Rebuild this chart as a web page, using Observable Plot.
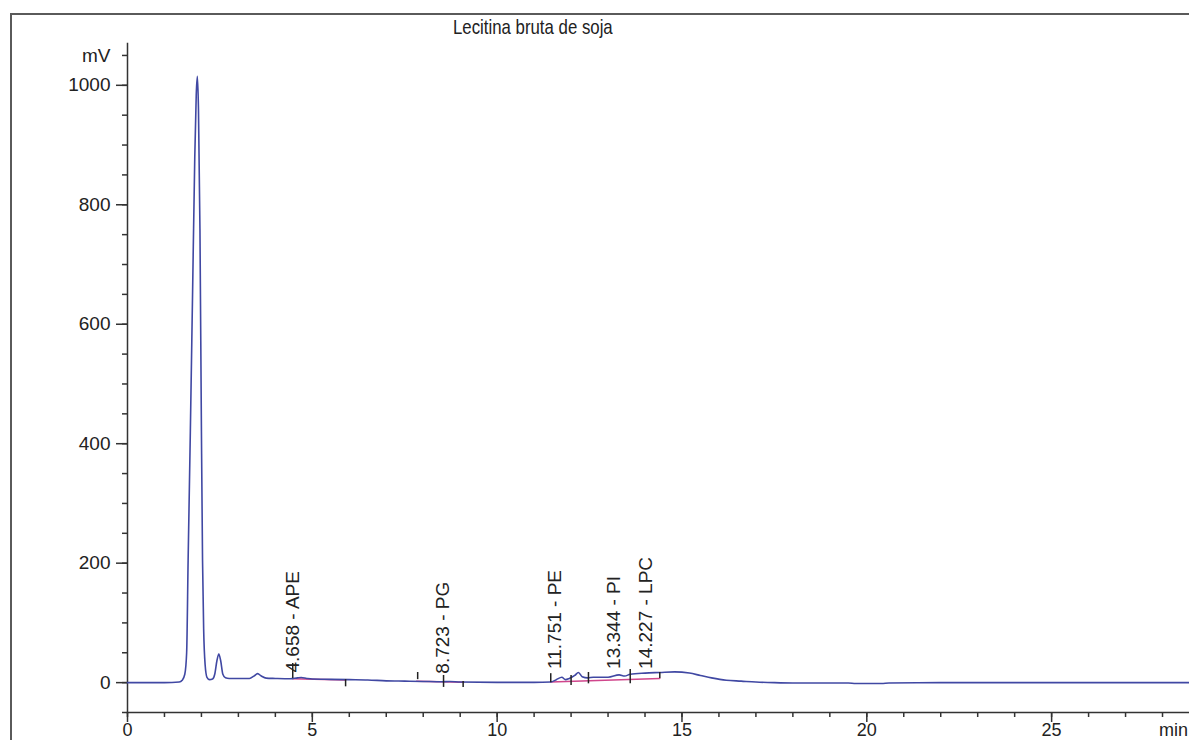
<!DOCTYPE html>
<html>
<head>
<meta charset="utf-8">
<script src="https://cdn.jsdelivr.net/npm/d3@7"></script>
<script src="https://cdn.jsdelivr.net/npm/@observablehq/plot@0.6"></script>
<style>
  html, body { margin: 0; padding: 0; background: #fff; overflow: hidden; }
  #wrap { position: relative; width: 1189px; height: 740px; overflow: hidden; background: #fff; }
  #chart { position: absolute; left: 0; top: 0; }
  .frame-top { position: absolute; left: 11px; top: 13px; width: 1200px; height: 0; border-top: 2px solid #5a5a5a; }
  .frame-left { position: absolute; left: 10px; top: 13px; width: 0; height: 760px; border-left: 2px solid #5a5a5a; }
  #title { position: absolute; left: 453px; top: 16px; font-family: "Liberation Sans", Arial, sans-serif; font-size: 21px; line-height: 21px; color: #222; white-space: nowrap; transform: scaleX(0.8); transform-origin: 0 0; }
</style>
</head>
<body>
<div id="wrap">
  <div class="frame-top"></div>
  <div class="frame-left"></div>
  <div id="chart"></div>
  <div id="title">Lecitina bruta de soja</div>
</div>
<script>
// ---- Chromatogram trace (retention time in min, signal in mV) ----
const time = [0, 1.0, 1.40, 1.48, 1.55, 1.60, 1.64, 1.70, 1.76, 1.82, 1.86, 1.89, 1.92, 1.96, 2.00, 2.03, 2.06, 2.10, 2.15, 2.22,
  2.30, 2.36, 2.42, 2.47, 2.52, 2.58, 2.65, 2.75, 3.0, 3.3, 3.42, 3.52, 3.62, 3.75, 4.0, 4.4, 4.6, 4.7, 4.85, 5.0,
  5.5, 6.0, 6.5, 7.0, 7.5, 8.0, 8.5, 8.72, 9.0, 10.0, 11.0, 11.45, 11.6, 11.75, 11.85, 11.95, 12.1, 12.2, 12.3, 12.45,
  12.6, 13.0, 13.3, 13.45, 13.6, 14.0, 14.4, 14.8, 15.2, 15.5, 15.8, 16.2, 16.6, 17.0, 17.5, 18.0, 19.5, 19.7, 20.0, 20.4,
  20.6, 22.0, 25.0, 28.8];
const signal = [0, 0, 1, 4, 14, 50, 205, 420, 650, 880, 985, 1015, 960, 760, 420, 205, 90, 30, 9, 5,
  6, 14, 37, 48, 37, 14, 8, 7, 7, 7, 11, 15, 11, 7.5, 7, 6.5, 8, 8.5, 7, 6,
  5.5, 5, 4.5, 3, 2.5, 2, 1.5, 2, 1, 0.5, 0.5, 1, 5, 9, 5, 7, 12, 17, 10, 8,
  9, 9, 13, 11, 14, 16, 17, 18, 16, 12, 8, 4, 2.5, 1, 0, -0.5, -0.5, -1.5, -1.5, -1.5,
  -0.5, 0, 0, 0];

// ---- integration baselines (magenta) ----
const baseSeg = ["APE", "APE", "PG", "PG", "PE", "PE"];
const baseTime = [4.47, 5.9, 7.82, 9.1, 11.45, 14.4];
const baseVal = [6.5, 4.5, 2.5, 0.8, 1, 7];

// ---- peak start/end markers ----
const markTime = [4.47, 5.9, 7.85, 8.55, 9.08, 11.45, 12.0, 12.47, 13.6, 14.4];
const markLow = [7, -7, 5, -8, -8, 0, -5, -2, -2, 7];
const markHigh = [32, 5, 17, 12, 2, 15, 12, 17, 22, 17];

// ---- peak labels ----
const peakRT = [4.658, 8.723, 11.751, 13.344, 14.227];
const peakName = ["APE", "PG", "PE", "PI", "LPC"];
const labelBase = [17, 15, 23, 23, 23];

// ---- axes ----
const xMajor = [0, 5, 10, 15, 20, 25];
const xMinor = d3.range(0, 29, 1);
const yMajor = [0, 200, 400, 600, 800, 1000];
const yMinor = d3.range(-50, 1051, 50);
const yUnitTick = [1050];
const xUnitTick = [28.3];

const trace = time.map((t, i) => ({t, v: signal[i]}));
const baselines = baseTime.map((t, i) => ({t, v: baseVal[i], seg: baseSeg[i]}));
const marks = markTime.map((t, i) => ({t, lo: markLow[i], hi: markHigh[i]}));
const labels = peakRT.map((t, i) => ({t, y: labelBase[i], text: `${t.toFixed(3)} - ${peakName[i]}`}));

const chart = Plot.plot({
  width: 1189,
  height: 740,
  marginLeft: 127,
  marginRight: 0,
  marginTop: 43,
  marginBottom: 28,
  style: {fontFamily: "'Liberation Sans', Arial, sans-serif", fontSize: "19px", color: "#222", background: "transparent", overflow: "visible"},
  x: {domain: [0, 28.73], label: null},
  y: {domain: [-50, 1070], label: null},
  marks: [
    Plot.frame({anchor: "left", stroke: "#333", strokeWidth: 1.5}),
    Plot.frame({anchor: "bottom", stroke: "#333", strokeWidth: 1.5}),
    Plot.axisY({ticks: yMajor, tickSize: 11, tickPadding: 6, tickFormat: d => String(d), stroke: "#333", strokeWidth: 1.5, label: null}),
    Plot.axisY({ticks: yMinor, tickSize: 5, tickFormat: () => "", stroke: "#333", strokeWidth: 1.5, label: null}),
    Plot.axisY({ticks: yUnitTick, tickSize: 0, tickPadding: 17, tickFormat: () => "mV", label: null}),
    Plot.axisX({ticks: xMajor, tickSize: 10, tickPadding: 1, tickFormat: d => String(d), fontSize: 18, stroke: "#333", strokeWidth: 1.5, label: null}),
    Plot.axisX({ticks: xMinor, tickSize: 5, tickFormat: () => "", stroke: "#333", strokeWidth: 1.5, label: null}),
    Plot.axisX({ticks: xUnitTick, tickSize: 0, tickPadding: 11, tickFormat: () => "min", fontSize: 18, label: null}),
    Plot.line(baselines, {x: "t", y: "v", z: "seg", stroke: "#d0468c", strokeWidth: 1.5}),
    Plot.line(trace, {x: "t", y: "v", stroke: "#4048a3", strokeWidth: 1.6, curve: "monotone-x"}),
    Plot.ruleX(marks, {x: "t", y1: "lo", y2: "hi", stroke: "#222", strokeWidth: 1.5}),
    Plot.text(labels, {x: "t", y: "y", text: "text", rotate: -90, textAnchor: "start", lineAnchor: "bottom", dx: -1, fontSize: 19, fill: "#222"})
  ]
});
document.getElementById("chart").appendChild(chart);
</script>
</body>
</html>
